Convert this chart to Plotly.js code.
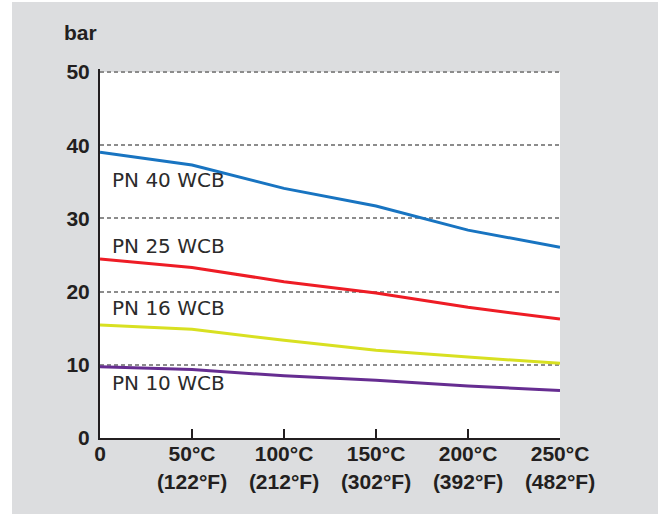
<!DOCTYPE html>
<html>
<head>
<meta charset="utf-8">
<script src="https://cdn.plot.ly/plotly-3.0.1.min.js"></script>
<style>html,body{margin:0;padding:0;background:#fff;}#chart{width:664px;height:515px;}</style>
</head>
<body>
<div id="chart"></div>
<script>
var temps = [0, 50, 100, 150, 200, 250];
var tickLabels = ['0', '50°C<br>(122°F)', '100°C<br>(212°F)', '150°C<br>(302°F)', '200°C<br>(392°F)', '250°C<br>(482°F)'];
var yTicks = [0, 10, 20, 30, 40, 50];
var pn40 = [39.05, 37.3, 34.1, 31.7, 28.4, 26.05];
var pn25 = [24.45, 23.3, 21.35, 19.8, 17.85, 16.25];
var pn16 = [15.45, 14.85, 13.35, 12.0, 11.05, 10.2];
var pn10 = [9.75, 9.35, 8.5, 7.9, 7.1, 6.5];
var seriesNames = ['PN 40 WCB', 'PN 25 WCB', 'PN 16 WCB', 'PN 10 WCB'];
var seriesColors = ['#1874c1', '#ee1c25', '#d8e021', '#662d91'];
var series = [pn40, pn25, pn16, pn10];
var labelY = [35.2, 26.2, 17.8, 7.5];

var traces = series.map(function (s, i) {
  return {
    x: temps, y: s, type: 'scatter', mode: 'lines', name: seriesNames[i],
    line: {color: seriesColors[i], width: 3}, hoverinfo: 'skip'
  };
});

var tickFont = {family: 'Liberation Sans, Arial, sans-serif', size: 21, color: '#231f20', weight: 'bold'};

// plot area: 0 bar at y=438px, 50 bar at y=72px; top margin 69px leaves 3px of headroom above 50
var H = 515, T = 69, B = 77;
var yTop = 50 * (H - T - B) / (438 - 72);

var annotations = seriesNames.map(function (n, i) {
  return {
    text: n, x: 5.5, y: labelY[i], xref: 'x', yref: 'y', xanchor: 'left', yanchor: 'middle',
    showarrow: false, font: {family: 'DejaVu Sans, sans-serif', size: 20, color: '#2b2b2b'}
  };
});
annotations.push({
  text: 'bar', xref: 'paper', yref: 'paper', x: -0.0826, y: (H - B - 33) / (H - T - B), xanchor: 'left', yanchor: 'middle',
  showarrow: false, font: tickFont
});

var py0 = (H - B - 514) / (H - T - B), py1 = (H - B - 2) / (H - T - B);
var pw = 664 - 100 - 104;

var layout = {
  width: 664, height: H,
  margin: {l: 100, r: 104, t: T, b: B, pad: 0},
  paper_bgcolor: '#ffffff',
  plot_bgcolor: '#ffffff',
  showlegend: false,
  shapes: [
    {type: 'rect', xref: 'paper', yref: 'paper', x0: (12 - 100) / pw, x1: (658 - 100) / pw, y0: py0, y1: py1,
     fillcolor: '#dcdddf', line: {width: 0}, layer: 'below'},
    {type: 'rect', xref: 'paper', yref: 'y', x0: 0, x1: 1, y0: 0, y1: 50,
     fillcolor: '#ffffff', line: {width: 0}, layer: 'below'}
  ],
  xaxis: {
    range: [0, 250], tickvals: temps, ticktext: tickLabels,
    showgrid: false, zeroline: false, showline: true, linecolor: '#231f20', linewidth: 2,
    ticks: 'inside', ticklen: 9, tickwidth: 2, tickcolor: '#231f20', ticklabelstandoff: -4,
    tickfont: tickFont, fixedrange: true
  },
  yaxis: {
    range: [0, yTop], tickvals: yTicks,
    showgrid: true, gridcolor: '#8c8c8c', gridwidth: 2, griddash: '4px,3px',
    zeroline: false, showline: true, linecolor: '#231f20', linewidth: 2,
    ticks: '', ticklabelstandoff: 4,
    tickfont: tickFont, fixedrange: true
  },
  annotations: annotations
};

Plotly.newPlot('chart', traces, layout, {displayModeBar: false, staticPlot: true});
</script>
</body>
</html>
